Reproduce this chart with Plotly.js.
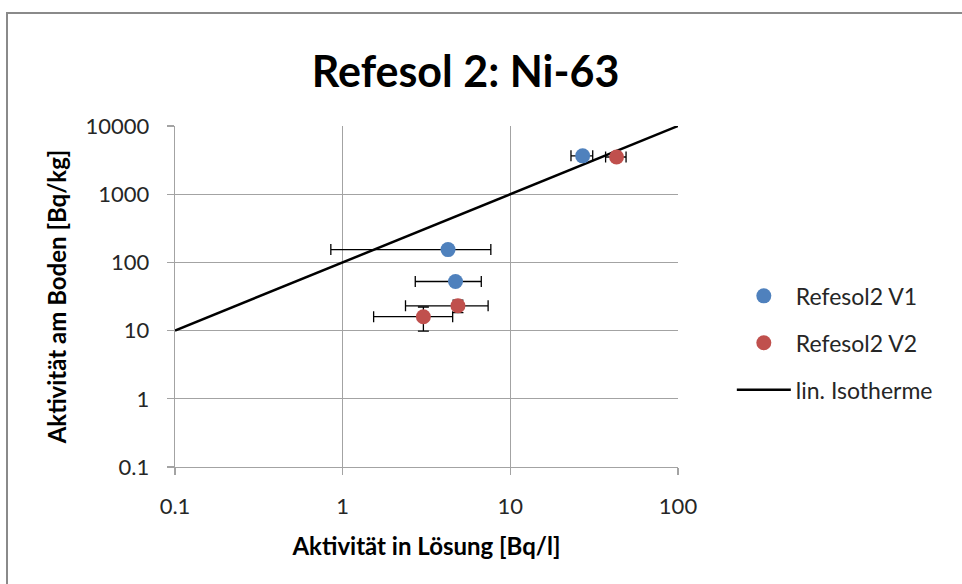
<!DOCTYPE html>
<html>
<head>
<meta charset="utf-8">
<script src="https://cdn.plot.ly/plotly-3.0.1.min.js"></script>
<style>
html,body{margin:0;padding:0;background:#fff;}
#frame{position:absolute;left:6px;top:12px;width:970px;height:590px;border-left:2px solid #8a8a8a;border-top:2px solid #8a8a8a;box-sizing:border-box;pointer-events:none;z-index:5;}
#chart{position:absolute;left:0;top:0;width:962px;height:584px;}
</style>
</head>
<body>
<div id="chart"></div>
<div id="frame"></div>
<script>
// Data
const v1X = [27, 4.25, 4.71];
const v1Y = [3650, 154, 52.5];
const v1Xerr = [4, 3.4, 2.0];

const v2X = [43, 4.87, 3.03];
const v2Y = [3510, 23.1, 16];
const v2Xerr = [6, 2.5, 1.5];
const v2Yerr = [0, 4.8, 6.2];

const isoX = [0.1, 100];
const isoY = [10, 10000];

const xTickVals = [0.1, 1, 10, 100];
const xTickText = ['0.1', '1', '10', '100'];
const yTickVals = [0.1, 1, 10, 100, 1000, 10000];
const yTickText = ['0.1', '1', '10', '100', '1000', '10000'];

const seriesNames = ['Refesol2 V1', 'Refesol2 V2', 'lin. Isotherme'];
const chartTitle = 'Refesol 2: Ni-63';
const xTitle = 'Aktivität in Lösung [Bq/l]';
const yTitle = 'Aktivität am Boden [Bq/kg]';

const FONT = 'Lato, "Open Sans", sans-serif';

const traces = [
  {
    x: isoX, y: isoY, mode: 'lines', name: seriesNames[2], legendgroup: 'c', legendrank: 3,
    line: {color: '#000000', width: 2.5}, hoverinfo: 'skip'
  },
  {
    x: v1X, y: v1Y, mode: 'markers', name: seriesNames[0], legendgroup: 'a', legendrank: 1,
    marker: {color: '#4f81bd', size: 15},
    error_x: {type: 'data', array: v1Xerr, visible: true, color: '#000', thickness: 1.3, width: 5.5}
  },
  {
    x: v2X, y: v2Y, mode: 'markers', name: seriesNames[1], legendgroup: 'b', legendrank: 2,
    marker: {color: '#c0504d', size: 15},
    error_x: {type: 'data', array: v2Xerr, visible: true, color: '#000', thickness: 1.3, width: 5.5},
    error_y: {type: 'data', array: v2Yerr, visible: true, color: '#000', thickness: 1.3, width: 5.5}
  }
];

const axisCommon = {
  type: 'log',
  showgrid: true, gridcolor: '#a3a3a3', gridwidth: 1.3,
  showline: true, linecolor: '#a3a3a3', linewidth: 1.3,
  ticks: 'outside', ticklen: 7, tickcolor: '#a3a3a3', tickwidth: 1.3,
  zeroline: false,
  tickfont: {family: FONT, size: 22, color: '#262626'},
  fixedrange: true
};

const layout = {
  width: 962, height: 584,
  margin: {l: 175, r: 284, t: 126, b: 117},
  paper_bgcolor: '#ffffff', plot_bgcolor: '#ffffff',
  font: {family: FONT, color: '#000'},
  title: {
    text: '<b>' + chartTitle + '</b>',
    font: {family: FONT, size: 43, color: '#000'},
    xref: 'container', yref: 'container', x: 0.484, y: 0.877,
    xanchor: 'center', yanchor: 'middle'
  },
  xaxis: Object.assign({}, axisCommon, {
    range: [-1, 2], tickvals: xTickVals, ticktext: xTickText,
    ticklabelstandoff: 12,
    title: {text: '<b>' + xTitle + '</b>', font: {family: FONT, size: 24, color: '#000'}, standoff: 20}
  }),
  yaxis: Object.assign({}, axisCommon, {
    range: [-1, 4], tickvals: yTickVals, ticktext: yTickText,
    ticklabelstandoff: 13,
    title: {text: '<b>' + yTitle + '</b>', font: {family: FONT, size: 24, color: '#000'}, standoff: 12}
  }),
  showlegend: true,
  legend: {
    x: 1.107, y: 0.364, xanchor: 'left', yanchor: 'middle',
    font: {family: FONT, size: 23, color: '#262626'},
    traceorder: 'grouped', tracegroupgap: 14, itemwidth: 54,
    bgcolor: 'rgba(0,0,0,0)'
  }
};

Plotly.newPlot('chart', traces, layout, {displayModeBar: false, staticPlot: true});
</script>
</body>
</html>
